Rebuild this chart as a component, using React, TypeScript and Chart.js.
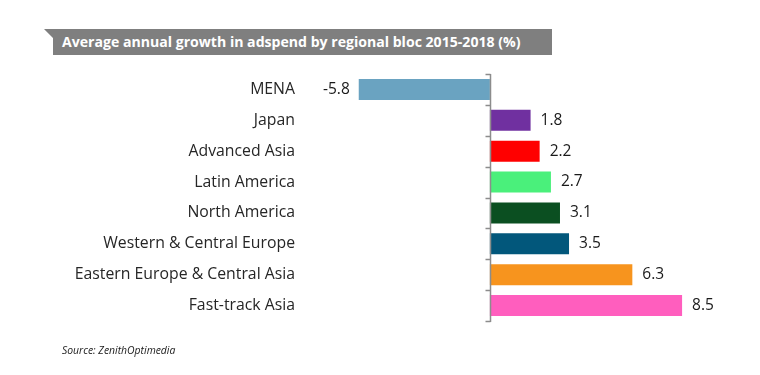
import React, { useEffect, useRef } from "react";
import { Chart, registerables } from "chart.js";

Chart.register(...registerables);

const categories = [
  "MENA",
  "Japan",
  "Advanced Asia",
  "Latin America",
  "North America",
  "Western & Central Europe",
  "Eastern Europe & Central Asia",
  "Fast-track Asia",
];
const growthValues = [-5.8, 1.8, 2.2, 2.7, 3.1, 3.5, 6.3, 8.5];
const barColors = [
  "#6aa3c1",
  "#7030a0",
  "#ff0000",
  "#4af07b",
  "#0b4f21",
  "#02577b",
  "#f7941e",
  "#ff5ebe",
];
const titleText = "Average annual growth in adspend by regional bloc 2015-2018 (%)";
const sourceText = "Source: ZenithOptimedia";

const FONT = "'Open Sans', 'Liberation Sans', sans-serif";

const axisAndLabels = {
  id: "axisAndLabels",
  afterDatasetsDraw(chart: any) {
    const ctx = chart.ctx;
    const area = chart.chartArea;
    const xs = chart.scales.x;
    const x0 = Math.round(xs.getPixelForValue(0)) + 0.5;
    ctx.save();
    ctx.strokeStyle = "#8c8c8c";
    ctx.lineWidth = 1.5;
    ctx.beginPath();
    ctx.moveTo(x0, area.top);
    ctx.lineTo(x0, area.bottom + 1);
    const n = categories.length;
    const band = (area.bottom - area.top) / n;
    for (let k = 0; k <= n; k++) {
      const y = Math.round(area.top + k * band) + 0.5;
      ctx.moveTo(x0 - 5, y);
      ctx.lineTo(x0, y);
    }
    ctx.stroke();

    const meta = chart.getDatasetMeta(0);
    ctx.fillStyle = "#1a1a1a";
    ctx.font = "15.5px " + FONT;
    ctx.textBaseline = "middle";
    meta.data.forEach((el: any, i: number) => {
      const v = growthValues[i];
      const txt = v.toFixed(1);
      if (v >= 0) {
        ctx.textAlign = "left";
        ctx.fillText(txt, el.x + 10, el.y);
      } else {
        ctx.textAlign = "right";
        ctx.fillText(txt, el.x - 9, el.y);
      }
    });
    ctx.restore();
  },
};

export default function App() {
  const ref = useRef<HTMLCanvasElement | null>(null);
  useEffect(() => {
    if (!ref.current) return;
    const chart = new Chart(ref.current, {
      type: "bar",
      data: {
        labels: categories,
        datasets: [
          {
            data: growthValues,
            backgroundColor: barColors,
            borderWidth: 0,
            categoryPercentage: 1,
            barPercentage: 0.68,
          },
        ],
      },
      options: {
        indexAxis: "y",
        animation: false,
        responsive: false,
        devicePixelRatio: 1,
        layout: { padding: { top: 74, bottom: 54, right: 44, left: 0 } },
        plugins: {
          legend: { display: false },
          tooltip: { enabled: false },
          title: { display: false },
        },
        scales: {
          x: { display: false, min: -8, max: 10 },
          y: {
            position: "left",
            grid: { display: false, drawTicks: false },
            border: { display: false },
            ticks: {
              padding: 14,
              color: "#262626",
              font: { family: FONT, size: 15.8 },
            },
            afterFit: (scale: any) => {
              scale.width = 309;
            },
          },
        },
      },
      plugins: [axisAndLabels],
    });
    return () => chart.destroy();
  }, []);

  return (
    <div style={{ position: "absolute", left: 0, top: 0, width: 760, height: 375, background: "#fff", overflow: "hidden" }}>
      <div
        style={{
          position: "absolute",
          left: 44,
          top: 29,
          width: 508,
          height: 26,
          background: "#7f7f7f",
          clipPath: "polygon(0 0, 100% 0, 100% 100%, 9px 100%, 9px 9px)",
        }}
      />
      <div
        style={{
          position: "absolute",
          left: 62,
          top: 29,
          height: 26,
          lineHeight: "26px",
          color: "#fff",
          fontFamily: FONT,
          fontWeight: 700,
          fontSize: 14.1,
          whiteSpace: "nowrap",
        }}
      >
        {titleText}
      </div>
      <canvas ref={ref} width={760} height={375} style={{ position: "absolute", left: 0, top: 0 }} />
      <div
        style={{
          position: "absolute",
          left: 62,
          top: 343,
          color: "#1a1a1a",
          fontFamily: FONT,
          fontStyle: "italic",
          fontSize: 10.4,
          whiteSpace: "nowrap",
        }}
      >
        {sourceText}
      </div>
    </div>
  );
}
